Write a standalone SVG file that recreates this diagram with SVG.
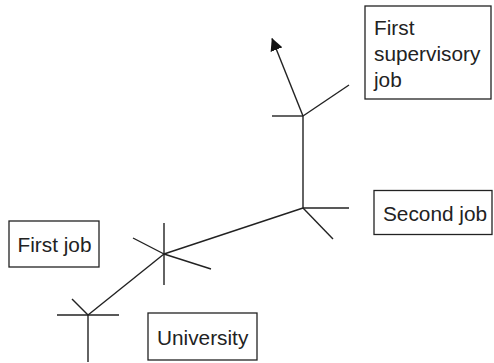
<svg xmlns="http://www.w3.org/2000/svg" width="494" height="363" viewBox="0 0 494 363">
  <style>
    .box { fill: #ffffff; stroke: #222222; stroke-width: 1.3; }
    .lbl { font-family: "Liberation Sans", Arial, sans-serif; font-size: 20.8px; fill: #222222; }
    .ln { stroke: #222222; stroke-width: 1.4; fill: none; stroke-linecap: butt; }
  </style>
  <defs>
    <marker id="arrow" markerWidth="13" markerHeight="13" refX="12" refY="6.25" orient="auto" markerUnits="userSpaceOnUse">
      <path d="M0,0 L12.5,6.25 L0,12.5 Z" fill="#111111"/>
    </marker>
  </defs>
  <rect width="494" height="363" fill="#ffffff"/>

  <!-- path of the career and the branch marks at each step -->
  <g id="connectors">
    <line class="ln" x1="88" y1="315" x2="164" y2="254"/>
    <line class="ln" x1="164" y1="254" x2="303" y2="208"/>
    <line class="ln" x1="303" y1="208" x2="303" y2="116"/>
    <line class="ln" x1="303" y1="116" x2="272" y2="38.5" marker-end="url(#arrow)"/>

    <!-- bottom junction -->
    <line class="ln" x1="57" y1="315" x2="119" y2="315"/>
    <line class="ln" x1="88" y1="315" x2="88" y2="362"/>
    <line class="ln" x1="72" y1="299" x2="88" y2="315"/>

    <!-- middle junction -->
    <line class="ln" x1="164" y1="223" x2="164" y2="285"/>
    <line class="ln" x1="133" y1="238" x2="164" y2="254"/>
    <line class="ln" x1="164" y1="254" x2="211" y2="269"/>

    <!-- right junction -->
    <line class="ln" x1="303" y1="208" x2="349" y2="208"/>
    <line class="ln" x1="303" y1="208" x2="333" y2="239"/>

    <!-- top junction -->
    <line class="ln" x1="272" y1="116" x2="303" y2="116"/>
    <line class="ln" x1="303" y1="116" x2="349" y2="85"/>
  </g>

  <g id="first-job">
    <rect class="box" x="9" y="221" width="90" height="46"/>
    <text class="lbl" x="17.5" y="252">First job</text>
  </g>

  <g id="university">
    <rect class="box" x="148" y="313" width="109" height="47"/>
    <text class="lbl" x="157" y="344.5">University</text>
  </g>

  <g id="second-job">
    <rect class="box" x="374" y="190.5" width="118" height="44"/>
    <text class="lbl" x="383" y="221">Second job</text>
  </g>

  <g id="first-supervisory-job">
    <rect class="box" x="365" y="6" width="126" height="93"/>
    <text class="lbl" x="374" y="35">First</text>
    <text class="lbl" x="374" y="61">supervisory</text>
    <text class="lbl" x="374" y="87">job</text>
  </g>
</svg>
